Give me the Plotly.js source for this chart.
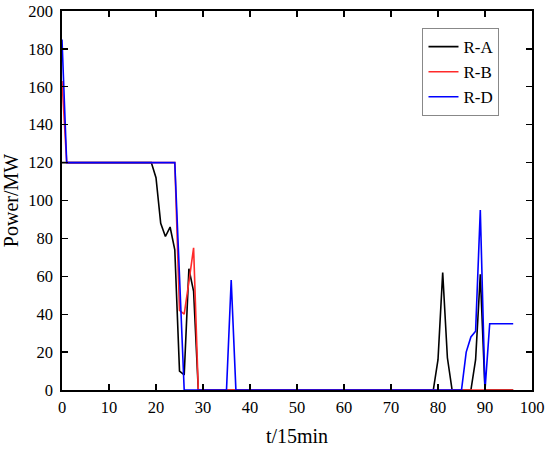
<!DOCTYPE html>
<html>
<head>
<meta charset="utf-8">
<script src="https://cdn.plot.ly/plotly-3.0.1.min.js"></script>
<style>html,body{margin:0;padding:0;background:#fff;}#chart{width:550px;height:450px;}</style>
</head>
<body>
<div id="chart"></div>
<script>
var t = [0,1,2,3,4,5,6,7,8,9,10,11,12,13,14,15,16,17,18,19,20,21,22,23,24,25,26,27,28,29,30,31,32,33,34,35,36,37,38,39,40,41,42,43,44,45,46,47,48,49,50,51,52,53,54,55,56,57,58,59,60,61,62,63,64,65,66,67,68,69,70,71,72,73,74,75,76,77,78,79,80,81,82,83,84,85,86,87,88,89,90,91,92,93,94,95,96];

var rA = [120,120,120,120,120,120,120,120,120,120,120,120,120,120,120,120,120,120,120,120,112,88,81,86,74,10,8,64,52,0,0,0,0,0,0,0,0,0,0,0,0,0,0,0,0,0,0,0,0,0,0,0,0,0,0,0,0,0,0,0,0,0,0,0,0,0,0,0,0,0,0,0,0,0,0,0,0,0,0,0,16,62,17,0,0,0,0,0,16,61,0,0,0,0,0,0,0];

var rB = [163,120,120,120,120,120,120,120,120,120,120,120,120,120,120,120,120,120,120,120,120,120,120,120,120,42,40,57,75,0,0,0,0,0,0,0,0,0,0,0,0,0,0,0,0,0,0,0,0,0,0,0,0,0,0,0,0,0,0,0,0,0,0,0,0,0,0,0,0,0,0,0,0,0,0,0,0,0,0,0,0,0,0,0,0,0,0,0,0,0,0,0,0,0,0,0,0];

var rD = [185,120,120,120,120,120,120,120,120,120,120,120,120,120,120,120,120,120,120,120,120,120,120,120,120,60,0,0,0,0,0,0,0,0,0,0,58,0,0,0,0,0,0,0,0,0,0,0,0,0,0,0,0,0,0,0,0,0,0,0,0,0,0,0,0,0,0,0,0,0,0,0,0,0,0,0,0,0,0,0,0,0,0,0,0,0,20,28,31,95,0,35,35,35,35,35,35];

var seriesNames = ["R-A", "R-B", "R-D"];

var font = "Liberation Serif";
var traces = [
  {x: t, y: rA, name: seriesNames[0], mode: "lines", line: {color: "#000000", width: 1.6}},
  {x: t, y: rB, name: seriesNames[1], mode: "lines", line: {color: "#ff2a2a", width: 1.6}},
  {x: t, y: rD, name: seriesNames[2], mode: "lines", line: {color: "#0000ff", width: 1.6}}
];

var axisCommon = {
  showline: true, linecolor: "#000", linewidth: 1.6, mirror: "ticks",
  ticks: "inside", ticklen: 6, tickwidth: 1.3, tickcolor: "#000",
  showgrid: false, zeroline: false,
  tickfont: {family: font, size: 16.5, color: "#000"}
};

var layout = {
  width: 550, height: 450,
  margin: {l: 62, r: 18, t: 11, b: 60},
  paper_bgcolor: "#fff", plot_bgcolor: "#fff",
  font: {family: font, color: "#000"},
  showlegend: true,
  legend: {
    x: 0.767, y: 0.955, xanchor: "left", yanchor: "top",
    bordercolor: "#888", borderwidth: 1, bgcolor: "#fff",
    font: {family: font, size: 17, color: "#000"},
    tracegroupgap: 0, itemwidth: 30
  },
  xaxis: Object.assign({}, axisCommon, {
    range: [0, 100], dtick: 10, tick0: 0, ticklabelstandoff: 2,
    title: {text: "t/15min", font: {family: font, size: 20, color: "#000"}, standoff: 12}
  }),
  yaxis: Object.assign({}, axisCommon, {
    range: [0, 200], dtick: 20, tick0: 0, ticklabelstandoff: 4,
    title: {text: "Power/MW", font: {family: font, size: 20, color: "#000"}, standoff: 8}
  })
};

Plotly.newPlot("chart", traces, layout, {displayModeBar: false, staticPlot: true});
</script>
</body>
</html>
